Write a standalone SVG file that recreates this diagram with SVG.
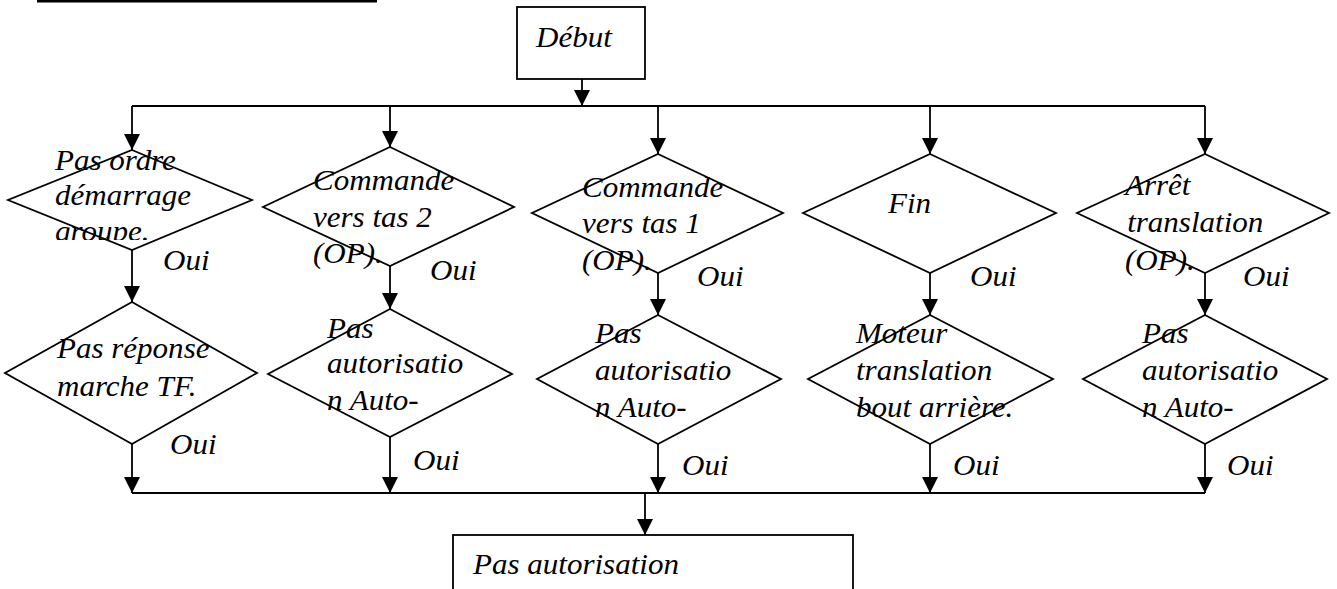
<svg xmlns="http://www.w3.org/2000/svg" width="1337" height="589" viewBox="0 0 1337 589">
  <style>
    .shape { fill: #fff; stroke: #000; stroke-width: 1.8; }
    .wire { fill: none; stroke: #000; stroke-width: 1.8; }
    text { font-family: "Liberation Serif", "Times New Roman", serif; font-style: italic; font-size: 29px; fill: #000; }
  </style>
  <defs>
    <marker id="arrow" markerUnits="userSpaceOnUse" markerWidth="16" markerHeight="16" viewBox="0 0 16 16" refX="16" refY="8" orient="auto">
      <path d="M0,0 L16,8 L0,16 Z" fill="#000"/>
    </marker>
    <!-- text box of the first decision cuts its third line -->
    <clipPath id="clipD1"><rect x="0" y="140" width="260" height="100"/></clipPath>
  </defs>

  <rect width="1337" height="589" fill="#fff"/>

  <!-- heading underline -->
  <rect x="37" y="0" width="340" height="2.5" fill="#000"/>

  <!-- connectors -->
  <g id="connectors">
    <line class="wire" x1="582" y1="79" x2="582" y2="106" marker-end="url(#arrow)"/>
    <line class="wire" x1="132" y1="106" x2="1205" y2="106"/>
    <line class="wire" x1="132" y1="106" x2="132" y2="150" marker-end="url(#arrow)"/>
    <line class="wire" x1="390" y1="106" x2="390" y2="147" marker-end="url(#arrow)"/>
    <line class="wire" x1="658" y1="106" x2="658" y2="154" marker-end="url(#arrow)"/>
    <line class="wire" x1="930" y1="106" x2="930" y2="154" marker-end="url(#arrow)"/>
    <line class="wire" x1="1205" y1="106" x2="1205" y2="154" marker-end="url(#arrow)"/>

    <line class="wire" x1="132" y1="250" x2="132" y2="302" marker-end="url(#arrow)"/>
    <line class="wire" x1="390" y1="266" x2="390" y2="309" marker-end="url(#arrow)"/>
    <line class="wire" x1="658" y1="273" x2="658" y2="315" marker-end="url(#arrow)"/>
    <line class="wire" x1="930" y1="273" x2="930" y2="315" marker-end="url(#arrow)"/>
    <line class="wire" x1="1205" y1="273" x2="1205" y2="315" marker-end="url(#arrow)"/>

    <line class="wire" x1="132" y1="444" x2="132" y2="493" marker-end="url(#arrow)"/>
    <line class="wire" x1="390" y1="437" x2="390" y2="493" marker-end="url(#arrow)"/>
    <line class="wire" x1="658" y1="444" x2="658" y2="493" marker-end="url(#arrow)"/>
    <line class="wire" x1="930" y1="444" x2="930" y2="493" marker-end="url(#arrow)"/>
    <line class="wire" x1="1205" y1="444" x2="1205" y2="493" marker-end="url(#arrow)"/>
    <line class="wire" x1="132" y1="493" x2="1205" y2="493"/>

    <line class="wire" x1="645" y1="493" x2="645" y2="535" marker-end="url(#arrow)"/>

    <!-- branch labels -->
    <text transform="translate(163,270) scale(1.07 1)">Oui</text>
    <text transform="translate(430,280) scale(1.07 1)">Oui</text>
    <text transform="translate(697,286) scale(1.07 1)">Oui</text>
    <text transform="translate(970,286) scale(1.07 1)">Oui</text>
    <text transform="translate(1243,286) scale(1.07 1)">Oui</text>
    <text transform="translate(170,454) scale(1.07 1)">Oui</text>
    <text transform="translate(413,470) scale(1.07 1)">Oui</text>
    <text transform="translate(682,475) scale(1.07 1)">Oui</text>
    <text transform="translate(953,475) scale(1.07 1)">Oui</text>
    <text transform="translate(1227,475) scale(1.07 1)">Oui</text>
  </g>

  <!-- start -->
  <g id="debut">
    <rect class="shape" x="517" y="7" width="128" height="72"/>
    <text transform="translate(536,47) scale(1.07 1)">Début</text>
  </g>

  <!-- first row of decisions -->
  <g id="d1">
    <polygon class="shape" points="132,150 252,200 132,250 8,200"/>
    <g clip-path="url(#clipD1)">
      <text transform="translate(55,170) scale(1.07 1)"><tspan x="0" y="0">Pas ordre</tspan><tspan x="0" y="35">démarrage</tspan><tspan x="0" y="71">groupe.</tspan></text>
    </g>
  </g>
  <g id="d2">
    <polygon class="shape" points="390,147 514,207 390,266 263,207"/>
    <text transform="translate(313,190) scale(1.07 1)"><tspan x="0" y="0">Commande</tspan><tspan x="0" y="37">vers tas 2</tspan><tspan x="0" y="73">(OP).</tspan></text>
  </g>
  <g id="d3">
    <polygon class="shape" points="658,154 783,213 658,273 532,213"/>
    <text transform="translate(582,197) scale(1.07 1)"><tspan x="0" y="0">Commande</tspan><tspan x="0" y="36">vers tas 1</tspan><tspan x="0" y="73">(OP).</tspan></text>
  </g>
  <g id="d4">
    <polygon class="shape" points="930,154 1056,213 930,273 803,213"/>
    <text transform="translate(888,213) scale(1.07 1)">Fin</text>
  </g>
  <g id="d5">
    <polygon class="shape" points="1205,154 1329,213 1205,273 1077,213"/>
    <text transform="translate(1125,195) scale(1.07 1)"><tspan x="0" y="0">Arrêt</tspan><tspan x="2" y="37">translation</tspan><tspan x="0" y="75">(OP).</tspan></text>
  </g>

  <!-- second row of decisions -->
  <g id="b1">
    <polygon class="shape" points="132,302 257,373 132,444 5,373"/>
    <text transform="translate(57,358) scale(1.07 1)"><tspan x="0" y="0">Pas réponse</tspan><tspan x="0" y="38">marche TF.</tspan></text>
  </g>
  <g id="b2">
    <polygon class="shape" points="390,309 512,374 390,437 268,374"/>
    <text transform="translate(327,338) scale(1.07 1)"><tspan x="0" y="0">Pas</tspan><tspan x="0" y="35">autorisatio</tspan><tspan x="0" y="72">n Auto-</tspan></text>
  </g>
  <g id="b3">
    <polygon class="shape" points="658,315 781,379 658,444 537,379"/>
    <text transform="translate(595,343) scale(1.07 1)"><tspan x="0" y="0">Pas</tspan><tspan x="0" y="37">autorisatio</tspan><tspan x="0" y="74">n Auto-</tspan></text>
  </g>
  <g id="b4">
    <polygon class="shape" points="930,315 1053,379 930,444 808,379"/>
    <text transform="translate(856,343) scale(1.07 1)"><tspan x="0" y="0">Moteur</tspan><tspan x="0" y="37">translation</tspan><tspan x="0" y="74">bout arrière.</tspan></text>
  </g>
  <g id="b5">
    <polygon class="shape" points="1205,315 1327,379 1205,444 1083,379"/>
    <text transform="translate(1142,343) scale(1.07 1)"><tspan x="0" y="0">Pas</tspan><tspan x="0" y="37">autorisatio</tspan><tspan x="0" y="74">n Auto-</tspan></text>
  </g>

  <!-- result -->
  <g id="resultat">
    <rect class="shape" x="453" y="535" width="400" height="70"/>
    <text transform="translate(473,574) scale(1.07 1)">Pas autorisation</text>
  </g>
</svg>
